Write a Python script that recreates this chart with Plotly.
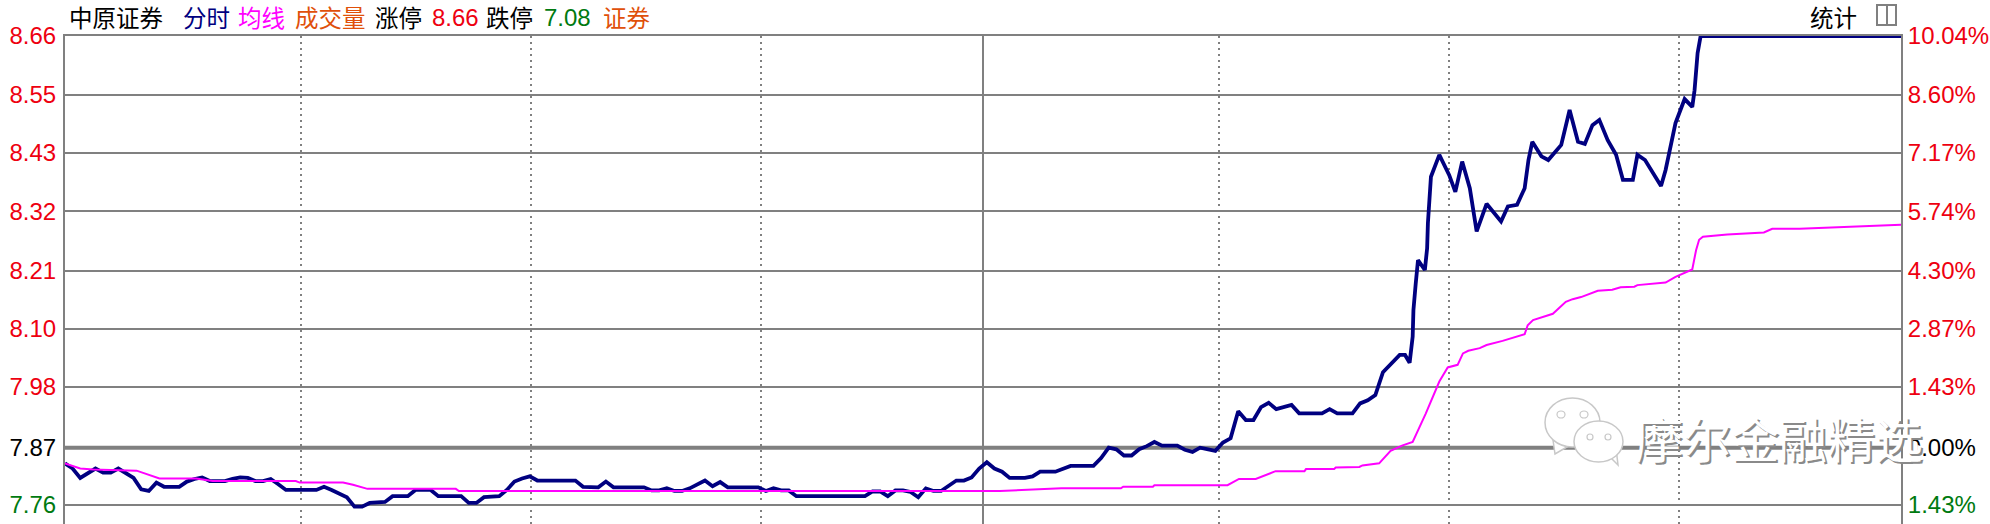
import plotly.graph_objects as go

W, H = 1990, 524
L, R, T, B = 65, 89, 36, 0
PRE_CLOSE = 7.87
Y_TOP = 8.66
Y_BOTTOM = 7.7236
X_MAX = 241

grid_prices = [8.66, 8.547, 8.436, 8.324, 8.209, 8.098, 7.987, 7.87, 7.76]
left_labels = ["8.66", "8.55", "8.43", "8.32", "8.21", "8.10", "7.98", "7.87", "7.76"]
right_labels = ["10.04%", "8.60%", "7.17%", "5.74%", "4.30%", "2.87%", "1.43%", "0.00%", "1.43%"]
label_colors = ["#EE0010"] * 7 + ["#000000", "#007A10"]
session_marks = [31, 61.2, 91.4, 151.5, 181.7, 211.9]
midday_mark = 120.5

price_minutes = [
    0, 1, 2, 3, 4, 5, 6, 7, 8, 9, 10, 11, 12, 13, 15, 16, 17, 18, 19, 21, 22, 23, 24, 25, 26, 27, 28, 29,
    33, 34, 35, 36, 37, 38, 39, 40, 42, 43, 45, 46, 48, 49, 52, 53, 54, 55, 57,
    58, 59, 60, 61, 62, 67, 68, 70, 71, 72, 76, 77, 78, 79, 80, 81, 82, 83, 84, 85, 86, 87, 91, 92, 93, 94, 95, 96,
    105, 106, 107, 108, 109, 110, 111, 112, 113, 114, 115, 116, 117, 118, 119, 120, 121, 122,
    123, 124, 126, 127, 128, 130, 131, 132, 135, 136, 137, 138, 139, 140, 141, 142, 143, 144, 146, 147, 148, 149,
    151, 152, 153, 154, 155, 156, 157, 158, 159, 161, 162, 165, 166, 167, 169, 170, 171, 172, 173,
    175.2, 175.9, 176.5, 176.9, 177.0, 177.3, 177.6, 178.5, 178.8, 178.9, 179.1, 179.3, 180.4, 181.7, 182.5,
    183.4, 184.4, 185.3, 186.6, 188.5, 189.4, 190.6, 191.6, 192.1, 192.6, 193.8, 194.7, 196.4, 197.5, 198.6,
    199.5, 200.5, 201.4, 202.5, 203.6, 204.5, 205.8, 206.4, 207.4, 209.5, 210.1, 210.8, 211.4, 212.6, 213.6,
    213.9, 214.3, 214.7, 241,
]
price_values = [
    7.84, 7.83, 7.812, 7.82, 7.83, 7.822, 7.822, 7.83, 7.82, 7.812, 7.79, 7.787, 7.803, 7.795, 7.795, 7.805,
    7.81, 7.813, 7.806, 7.806, 7.81, 7.813, 7.812, 7.806, 7.806, 7.81, 7.8, 7.789,
    7.789, 7.795, 7.789, 7.781, 7.775, 7.757, 7.757, 7.764, 7.766, 7.777, 7.777, 7.789, 7.789, 7.777, 7.777,
    7.764, 7.764, 7.775, 7.777,
    7.789, 7.805, 7.811, 7.815, 7.807, 7.807, 7.795, 7.794, 7.805, 7.794, 7.794, 7.788, 7.788, 7.792, 7.787,
    7.787, 7.792, 7.8, 7.807, 7.796, 7.804, 7.794, 7.794, 7.787, 7.792, 7.788, 7.788, 7.777,
    7.777, 7.786, 7.786, 7.777, 7.788, 7.788, 7.785, 7.775, 7.792, 7.787, 7.787, 7.797, 7.807, 7.807, 7.813,
    7.83, 7.842, 7.83,
    7.824, 7.812, 7.812, 7.815, 7.824, 7.824, 7.83, 7.835, 7.835, 7.85, 7.87, 7.867, 7.855, 7.855, 7.867, 7.873,
    7.881, 7.874, 7.874, 7.866, 7.862, 7.87, 7.864, 7.88, 7.888, 7.94, 7.923, 7.923, 7.948, 7.956, 7.944, 7.952,
    7.936, 7.936, 7.944, 7.936, 7.936, 7.955, 7.961, 7.971, 8.015,
    8.048, 8.048, 8.033, 8.083, 8.134, 8.185, 8.23, 8.211, 8.253, 8.301, 8.345, 8.39, 8.432, 8.393, 8.361,
    8.419, 8.368, 8.285, 8.338, 8.304, 8.333, 8.336, 8.368, 8.422, 8.457, 8.429, 8.422, 8.451, 8.518, 8.457,
    8.453, 8.489, 8.499, 8.46, 8.432, 8.384, 8.384, 8.432, 8.422, 8.372, 8.403, 8.454, 8.493, 8.539, 8.524,
    8.556, 8.627, 8.66, 8.66,
]

avg_minutes = [
    0, 2, 3.7, 9.4, 12.4, 17.2, 19.4, 30.3, 30.8, 36.5, 37.8, 39.7, 51.3, 51.7, 122.7, 130.8, 138.6, 138.9,
    142.8, 143, 152.6, 154.1, 156.3, 158.9, 162.7, 162.9, 166.6, 166.8, 169.9, 170.3, 172.5, 174, 175.5, 176.9,
    178.6, 179.6, 180.4, 181.5, 182.8, 183.5, 184.2, 185.7, 186.6, 188.7, 191.6, 192, 192.7, 195.3, 197, 197.9,
    199, 201.2, 203.1, 204.2, 206, 206.4, 210.1, 211.4, 213.6, 214.1, 214.5, 215, 218.2, 223, 224.1, 227.7, 238, 241,
]
avg_values = [
    7.84, 7.83, 7.828, 7.826, 7.811, 7.811, 7.806, 7.806, 7.803, 7.803, 7.799, 7.791, 7.791, 7.787, 7.787, 7.792,
    7.792, 7.795, 7.795, 7.798, 7.798, 7.81, 7.81, 7.825, 7.825, 7.829, 7.829, 7.832, 7.833, 7.836, 7.84, 7.864,
    7.874, 7.881, 7.935, 7.968, 7.997, 8.024, 8.029, 8.051, 8.056, 8.061, 8.067, 8.075, 8.088, 8.105, 8.115,
    8.127, 8.15, 8.155, 8.159, 8.171, 8.173, 8.178, 8.179, 8.182, 8.187, 8.198, 8.212, 8.249, 8.269, 8.275,
    8.279, 8.283, 8.29, 8.29, 8.297, 8.298,
]

header_items = [
    ("中原证券", 69, "#000000"), ("分时", 183, "#000080"), ("均线", 238, "#FF00FF"),
    ("成交量", 295, "#E0500A"), ("涨停", 375, "#000000"), ("8.66", 432, "#EE0010"),
    ("跌停", 486, "#000000"), ("7.08", 544, "#007A10"), ("证券", 603, "#E0500A"),
    ("统计", 1810, "#000000"),
]
WATERMARK = "摩尔金融精选"

PW, PH = W - L - R, H - T - B
px = lambda v: (v - L) / PW
py = lambda v: 1 - (v - T) / PH

fig = go.Figure()
fig.add_trace(go.Scatter(x=price_minutes, y=price_values, mode="lines", yaxis="y", cliponaxis=False,
                         line=dict(color="#000080", width=3.8), hoverinfo="skip"))
fig.add_trace(go.Scatter(x=avg_minutes, y=avg_values, mode="lines", yaxis="y2", cliponaxis=False,
                         line=dict(color="#FF00FF", width=2), hoverinfo="skip"))

axis_font = dict(family="Liberation Sans", size=24)
def colored(labels):
    return [f'<span style="color:{c}">{t}</span>' for t, c in zip(labels, label_colors)]

fig.update_layout(
    width=W, height=H, margin=dict(l=L, r=R, t=T, b=B, pad=0, autoexpand=False),
    paper_bgcolor="white", plot_bgcolor="white", showlegend=False,
    xaxis=dict(range=[0, X_MAX], side="top", showline=True, linecolor="#808080", linewidth=2,
               tickvals=session_marks, showticklabels=False, ticks="", showgrid=True,
               gridcolor="#808080", gridwidth=2, griddash="2px,4px", zeroline=False),
    yaxis=dict(range=[Y_BOTTOM, Y_TOP], tickvals=grid_prices, ticktext=colored(left_labels), tickfont=axis_font,
               showline=True, linecolor="#808080", linewidth=2, showgrid=True, gridcolor="#808080", gridwidth=2,
               ticks="outside", ticklen=2, tickcolor="rgba(0,0,0,0)", zeroline=False),
    yaxis2=dict(range=[Y_BOTTOM, Y_TOP], overlaying="y", side="right", tickvals=grid_prices,
                ticktext=colored(right_labels), tickfont=axis_font, showline=True, linecolor="#808080",
                linewidth=2, showgrid=False, ticks="", zeroline=False),
)

# midday solid divider and thick previous-close line
fig.add_shape(type="line", x0=midday_mark, x1=midday_mark, y0=Y_BOTTOM, y1=Y_TOP, layer="below",
              line=dict(color="#808080", width=2))
fig.add_shape(type="line", x0=0, x1=X_MAX, y0=PRE_CLOSE, y1=PRE_CLOSE, layer="below",
              line=dict(color="#808080", width=4))

# header text
for text, x, color in header_items:
    is_num = text[0].isdigit()
    fig.add_annotation(xref="paper", yref="paper", x=px(x), y=py(17), xanchor="left", yanchor="middle",
                       text=text, showarrow=False, xshift=-2,
                       font=dict(family="Liberation Sans" if is_num else "Noto Sans CJK SC",
                                 size=24 if is_num else 23.5, color=color))

# panel toggle icon
def rect(x0, y0, x1, y1, **kw):
    fig.add_shape(type="rect", xref="paper", yref="paper", x0=px(x0), x1=px(x1), y0=py(y0), y1=py(y1), **kw)

rect(1877, 5, 1896, 25, line=dict(color="#808080", width=2), fillcolor="white")
fig.add_shape(type="line", xref="paper", yref="paper", x0=px(1887), x1=px(1887), y0=py(5), y1=py(25),
              line=dict(color="#808080", width=2))

# WeChat-style watermark bubbles
def ellipse(x0, y0, x1, y1, line="#C8C8C8", fill="white", w=1.5):
    fig.add_shape(type="circle", xref="paper", yref="paper", x0=px(x0), x1=px(x1), y0=py(y0), y1=py(y1),
                  line=dict(color=line, width=w), fillcolor=fill)

def poly(points, line="#C8C8C8", fill="white"):
    path = "M " + " L ".join(f"{px(a)},{py(b)}" for a, b in points) + " Z"
    fig.add_shape(type="path", xref="paper", yref="paper", path=path, line=dict(color=line, width=1.5), fillcolor=fill)

poly([(1553, 440), (1555, 454), (1572, 444)])
ellipse(1545, 398, 1600, 447)
ellipse(1557, 411, 1565, 418, w=1.2)
ellipse(1580, 411, 1588, 418, w=1.2)
poly([(1605, 452), (1618, 465), (1616, 448)])
ellipse(1574, 421, 1623, 462)
ellipse(1587, 434, 1593, 440, w=1.2)
ellipse(1605, 434, 1611, 440, w=1.2)

# watermark text: grey relief under white fill
for color, dx, dy in [("#8A8A8A", 1.5, 1.5), ("#FFFFFF", 0, 0)]:
    fig.add_annotation(xref="paper", yref="paper", x=px(1779), y=py(437), xanchor="center", yanchor="middle",
                       text=WATERMARK, showarrow=False, xshift=dx, yshift=-dy,
                       font=dict(family="Noto Sans CJK SC", size=48, color=color))

fig.write_html("out.html", config={"displayModeBar": False},
               post_script="document.body.style.margin='0';document.body.style.overflow='hidden';")
